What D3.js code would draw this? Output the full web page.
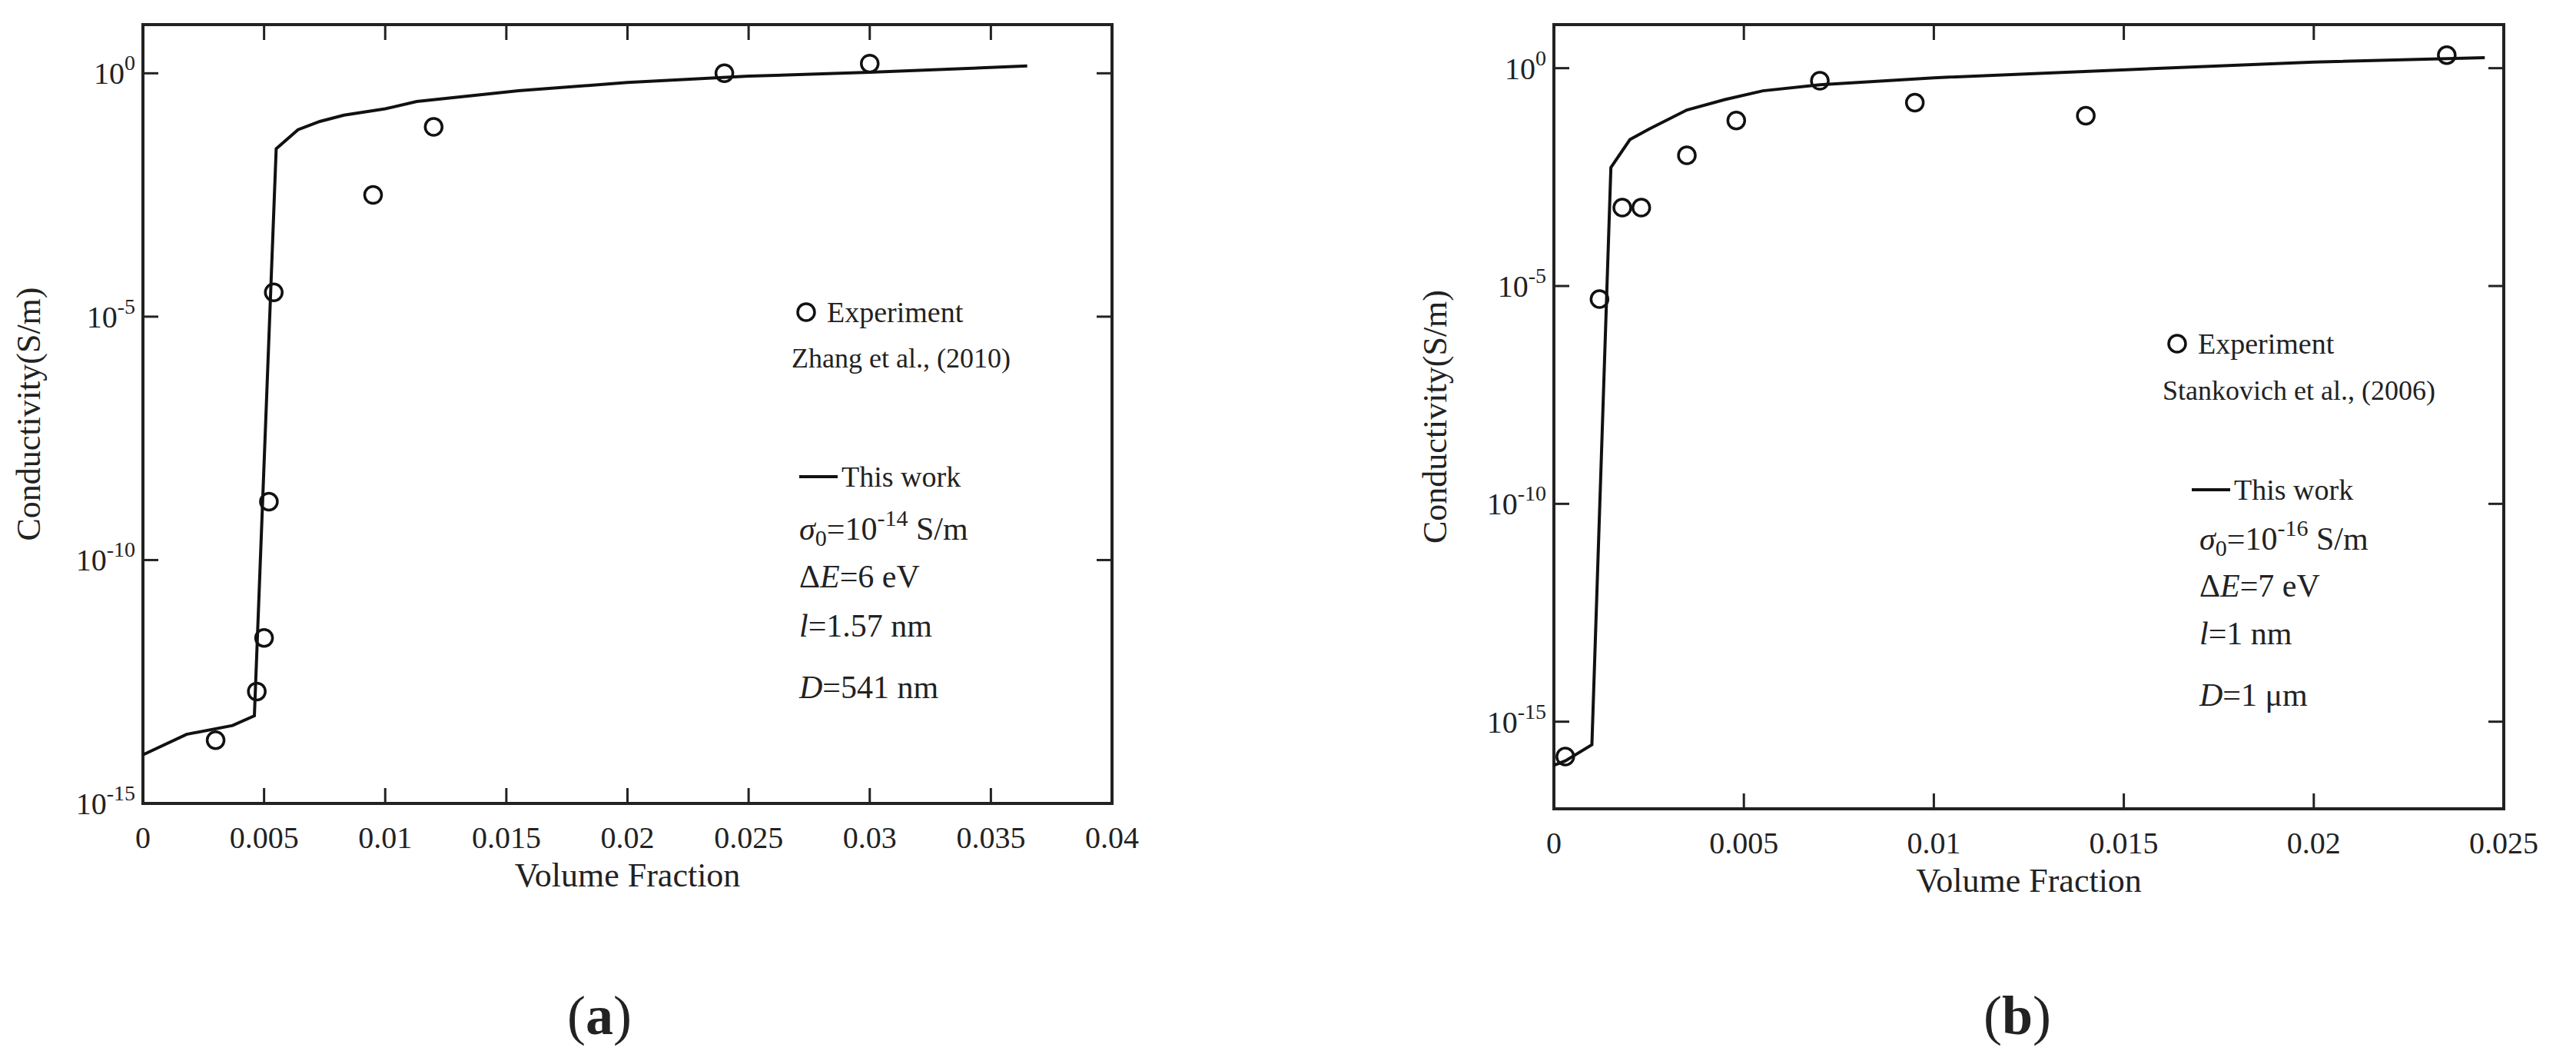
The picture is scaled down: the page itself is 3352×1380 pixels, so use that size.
<!DOCTYPE html>
<html>
<head>
<meta charset="utf-8">
<script src="https://cdn.jsdelivr.net/npm/d3@7"></script>
<style>
  body { margin: 0; background: #fff; }
  text { font-family: "Liberation Serif", "Times New Roman", serif; fill: #222; }
</style>
</head>
<body>
<svg id="chart" width="3352" height="1380"></svg>
<script>
// panel (a) data, exponents of conductivity (log10 S/m)
var aExpX = [0.003, 0.0047, 0.0050, 0.0052, 0.0054, 0.0095, 0.012, 0.024, 0.030];
var aExpY = [-13.7, -12.7, -11.6, -8.8, -4.5, -2.5, -1.1, 0.0, 0.2];
var aFitX = [0, 0.0018, 0.0037, 0.0046, 0.0055, 0.0064, 0.0073, 0.0083, 0.010, 0.0113, 0.0155, 0.020, 0.025, 0.030, 0.0365];
var aFitY = [-14.0, -13.58, -13.4, -13.2, -1.55, -1.16, -0.99, -0.86, -0.73, -0.58, -0.36, -0.19, -0.06, 0.02, 0.15];
var aXTicks = [0, 0.005, 0.01, 0.015, 0.02, 0.025, 0.03, 0.035, 0.04];
var aYTicks = [-15, -10, -5, 0];

// panel (b) data
var bExpX = [0.0003, 0.0012, 0.0018, 0.0023, 0.0035, 0.0048, 0.007, 0.0095, 0.014, 0.0235];
var bExpY = [-15.8, -5.3, -3.2, -3.2, -2.0, -1.2, -0.29, -0.79, -1.09, 0.3];
var bFitX = [0, 0.0003, 0.001, 0.0015, 0.002, 0.0025, 0.0035, 0.0045, 0.0055, 0.007, 0.010, 0.013, 0.016, 0.020, 0.0245];
var bFitY = [-16.0, -15.9, -15.53, -2.28, -1.64, -1.4, -0.96, -0.72, -0.52, -0.38, -0.22, -0.11, 0.0, 0.14, 0.24];
var bXTicks = [0, 0.005, 0.01, 0.015, 0.02, 0.025];
var bYTicks = [-15, -10, -5, 0];

var svg = d3.select("#chart");

function panel(o) {
    var g = svg.append("g");
    var x = d3.scaleLinear().domain(o.xDom).range([o.left, o.right]);
    var y = d3.scaleLinear().domain(o.yDom).range([o.bottom, o.top]);

    // ticks (inward, on all four sides)
    o.xTicks.forEach(function (t) {
        g.append("line").attr("x1", x(t)).attr("x2", x(t)).attr("y1", o.bottom).attr("y2", o.bottom - 20)
            .attr("stroke", "#222").attr("stroke-width", 3);
        g.append("line").attr("x1", x(t)).attr("x2", x(t)).attr("y1", o.top).attr("y2", o.top + 20)
            .attr("stroke", "#222").attr("stroke-width", 3);
        g.append("text").attr("x", x(t)).attr("y", o.bottom + 58).attr("text-anchor", "middle")
            .attr("font-size", 40).text(t);
    });
    o.yTicks.forEach(function (t) {
        g.append("line").attr("x1", o.left).attr("x2", o.left + 20).attr("y1", y(t)).attr("y2", y(t))
            .attr("stroke", "#222").attr("stroke-width", 3);
        g.append("line").attr("x1", o.right).attr("x2", o.right - 20).attr("y1", y(t)).attr("y2", y(t))
            .attr("stroke", "#222").attr("stroke-width", 3);
        var lab = g.append("text").attr("x", o.left - 10).attr("y", y(t) + 14).attr("text-anchor", "end")
            .attr("font-size", 40);
        lab.append("tspan").text("10");
        lab.append("tspan").attr("dy", -18).attr("font-size", 28).text(t);
    });

    g.append("rect").attr("x", o.left).attr("y", o.top)
        .attr("width", o.right - o.left).attr("height", o.bottom - o.top)
        .attr("fill", "none").attr("stroke", "#222").attr("stroke-width", 4);

    g.append("path")
        .datum(d3.zip(o.fitX, o.fitY))
        .attr("fill", "none").attr("stroke", "#111").attr("stroke-width", 4)
        .attr("d", d3.line().x(d => x(d[0])).y(d => y(d[1])));

    g.selectAll("circle.exp")
        .data(d3.zip(o.expX, o.expY))
        .join("circle")
        .attr("cx", d => x(d[0])).attr("cy", d => y(d[1])).attr("r", 11)
        .attr("fill", "none").attr("stroke", "#111").attr("stroke-width", 3.5);

    // axis titles
    g.append("text").attr("x", (o.left + o.right) / 2).attr("y", o.bottom + 108)
        .attr("text-anchor", "middle").attr("font-size", 44).text("Volume Fraction");
    g.append("text").attr("transform", "translate(" + o.yLabX + "," + (o.top + o.bottom) / 2 + ") rotate(-90)")
        .attr("text-anchor", "middle").attr("font-size", 44).text("Conductivity(S/m)");

    // legend
    var L = o.leg;
    g.append("circle").attr("cx", L.cx).attr("cy", L.cy).attr("r", 11)
        .attr("fill", "none").attr("stroke", "#111").attr("stroke-width", 3.5);
    g.append("text").attr("x", L.cx + 27).attr("y", L.cy + 13).attr("font-size", 38).text("Experiment");
    g.append("text").attr("x", L.refX).attr("y", L.refY).attr("font-size", 36).text(o.ref);
    g.append("line").attr("x1", L.lx).attr("x2", L.lx + 50).attr("y1", L.ly).attr("y2", L.ly)
        .attr("stroke", "#111").attr("stroke-width", 4);
    g.append("text").attr("x", L.lx + 55).attr("y", L.ly + 13).attr("font-size", 38).text("This work");

    var t1 = g.append("text").attr("x", L.px).attr("y", L.py[0]).attr("font-size", 42);
    t1.append("tspan").attr("font-style", "italic").text("σ");
    t1.append("tspan").attr("font-size", 30).attr("dy", 8).text("0");
    t1.append("tspan").attr("dy", -8).text("=10");
    t1.append("tspan").attr("font-size", 30).attr("dy", -18).text(o.sigExp);
    t1.append("tspan").attr("dy", 18).text(" S/m");
    var t2 = g.append("text").attr("x", L.px).attr("y", L.py[1]).attr("font-size", 42);
    t2.append("tspan").text("Δ");
    t2.append("tspan").attr("font-style", "italic").text("E");
    t2.append("tspan").text(o.dE);
    var t3 = g.append("text").attr("x", L.px).attr("y", L.py[2]).attr("font-size", 42);
    t3.append("tspan").attr("font-style", "italic").text("l");
    t3.append("tspan").text(o.l);
    var t4 = g.append("text").attr("x", L.px).attr("y", L.py[3]).attr("font-size", 42);
    t4.append("tspan").attr("font-style", "italic").text("D");
    t4.append("tspan").text(o.D);

    var cap = g.append("text").attr("x", o.capX).attr("y", 1345).attr("text-anchor", "middle").attr("font-size", 72);
    cap.append("tspan").text("(");
    cap.append("tspan").attr("font-weight", "bold").text(o.cap);
    cap.append("tspan").text(")");
}

panel({
    left: 186, right: 1447, top: 32, bottom: 1045,
    xDom: [0, 0.04], yDom: [-15, 1],
    xTicks: aXTicks, yTicks: aYTicks,
    expX: aExpX, expY: aExpY, fitX: aFitX, fitY: aFitY,
    yLabX: 52, ref: "Zhang et al., (2010)",
    leg: { cx: 1049, cy: 406, refX: 1030, refY: 478, lx: 1040, ly: 620, px: 1040, py: [702, 764, 828, 908] },
    sigExp: "-14", dE: "=6 eV", l: "=1.57 nm", D: "=541 nm",
    capX: 780, cap: "a"
});

panel({
    left: 2022, right: 3258, top: 32, bottom: 1052,
    xDom: [0, 0.025], yDom: [-17, 1],
    xTicks: bXTicks, yTicks: bYTicks,
    expX: bExpX, expY: bExpY, fitX: bFitX, fitY: bFitY,
    yLabX: 1882, ref: "Stankovich et al., (2006)",
    leg: { cx: 2833, cy: 447, refX: 2814, refY: 520, lx: 2852, ly: 637, px: 2862, py: [715, 776, 838, 918] },
    sigExp: "-16", dE: "=7 eV", l: "=1 nm", D: "=1 μm",
    capX: 2625, cap: "b"
});
</script>
</body>
</html>
